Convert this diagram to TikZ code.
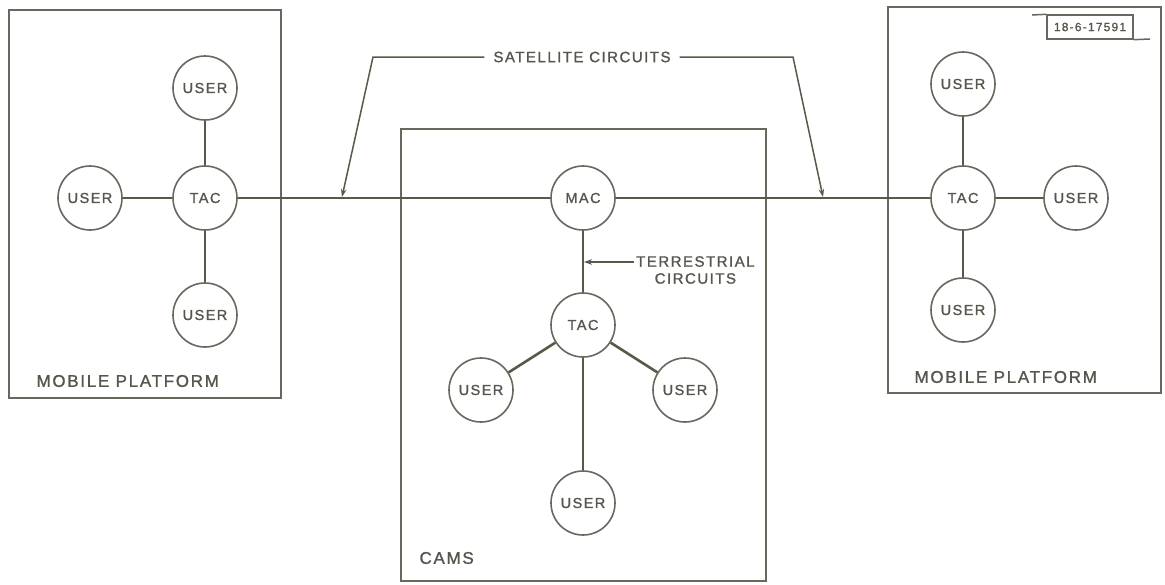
\documentclass[tikz,border=0pt]{standalone}
\usepackage{fontspec}
\setmainfont[LetterSpace=10,FakeBold=1.2]{Liberation Sans}
\usetikzlibrary{arrows.meta}
\definecolor{ink}{HTML}{535C47}
\definecolor{rim}{HTML}{66695D}
\definecolor{txt}{HTML}{55574D}
\begin{document}
\begin{tikzpicture}[x=1pt,y=-1pt,
  every node/.style={text=txt},
  unit/.style={circle,draw=rim,line width=1.6pt,minimum size=64pt,inner sep=0pt,font=\fontsize{14.5}{15}\selectfont},
  region/.style={draw=rim,line width=1.7pt,anchor=north west,inner sep=0pt},
  link/.style={draw=ink,line width=2.6pt},
  lead/.style={draw=ink,line width=1.5pt},
  tip/.style={-{Stealth[length=8pt,width=5.5pt]}},
  big/.style={font=\fontsize{17}{19}\selectfont},
  mid/.style={font=\fontsize{15}{17}\selectfont}]
\useasboundingbox[fill=white] (0,0) rectangle (1165,584);
% regions
\node[region,minimum width=272pt,minimum height=388pt] (lbox) at (8,9) {};
\node[region,minimum width=365pt,minimum height=452pt] (cbox) at (400,128) {};
\node[region,minimum width=273pt,minimum height=386pt] (rbox) at (887,6) {};
% left platform
\node[unit] (ltac) at (205,198) {TAC};
\node[unit] (lu1) at (205,88) {USER};
\node[unit] (lu2) at (90,198) {USER};
\node[unit] (lu3) at (205,315) {USER};
% CAMS
\node[unit] (mac) at (583,198) {MAC};
\node[unit] (ctac) at (583,325) {TAC};
\node[unit] (cu1) at (481,390) {USER};
\node[unit] (cu2) at (685,390) {USER};
\node[unit] (cu3) at (583,503) {USER};
% right platform
\node[unit] (rtac) at (963,198) {TAC};
\node[unit] (ru1) at (963,84) {USER};
\node[unit] (ru2) at (1076,198) {USER};
\node[unit] (ru3) at (963,310) {USER};
% links
\draw[link] (ltac) -- (lu1);
\draw[link] (ltac) -- (lu2);
\draw[link] (ltac) -- (lu3);
\draw[link] (ltac) -- (mac);
\draw[link] (mac) -- (rtac);
\draw[link] (mac) -- (ctac);
\draw[link] (ctac) -- (cu1);
\draw[link] (ctac) -- (cu2);
\draw[link] (ctac) -- (cu3);
\draw[link] (rtac) -- (ru1);
\draw[link] (rtac) -- (ru2);
\draw[link] (rtac) -- (ru3);
% labels
\node[big,anchor=west] (lmp) at (33,381) {MOBILE PLATFORM};
\node[big,anchor=west] (rmp) at (911,377) {MOBILE PLATFORM};
\node[big,anchor=west] (cams) at (416,558) {CAMS};
% satellite circuits
\node[mid,inner xsep=9pt] (sat) at (582,57) {SATELLITE CIRCUITS};
\coordinate (satL) at (373,57);
\coordinate (satLt) at (342,197);
\coordinate (satR) at (793,57);
\coordinate (satRt) at (823,197);
\draw[lead,tip] (sat.west) -- (satL) -- (satLt);
\draw[lead,tip] (sat.east) -- (satR) -- (satRt);
% terrestrial circuits
\coordinate (terr) at (584,262);
\node[mid,align=center,anchor=west,inner sep=2pt] (terrl) at (634,270) {TERRESTRIAL\\CIRCUITS};
\draw[lead,tip] (terrl.west |- terr) -- (terr);
% drawing number
\node[draw=rim,line width=1.4pt,font=\fontsize{12}{12}\selectfont,minimum width=86pt,minimum height=24pt,inner sep=0pt] (id) at (1090,27) {18-6-17591};
\coordinate (idL) at (1032,15);
\coordinate (idR) at (1150,39);
\draw[lead,draw=rim] (id.north west) -- (idL);
\draw[lead,draw=rim] (id.south east) -- (idR);
\end{tikzpicture}
\end{document}
